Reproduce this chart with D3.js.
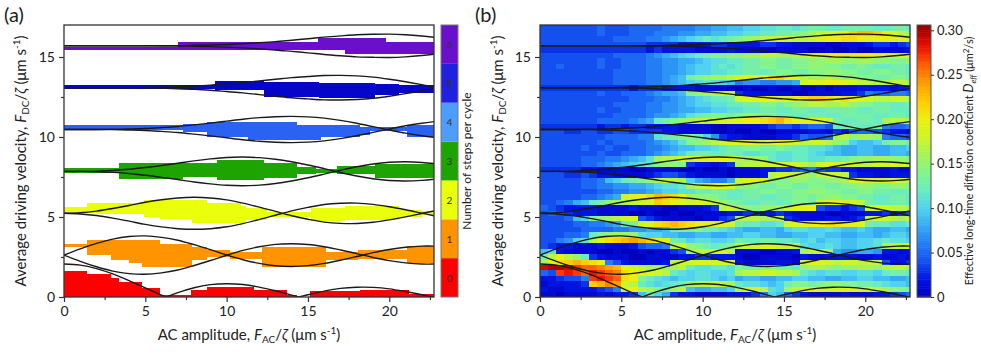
<!DOCTYPE html>
<html>
<head>
<meta charset="utf-8">
<script src="https://cdn.jsdelivr.net/npm/d3@7"></script>
<style>
  body { margin: 0; background: #fff; }
  text { font-family: Lato, "Open Sans", sans-serif; fill: #222; }
</style>
</head>
<body>
<svg id="fig" width="981" height="359"></svg>
<script>
// Shapiro-step map: (a) number of steps per cycle, (b) long-time diffusion coefficient

// --- data ---
var xMax = 22.75, yMax = 17;

// centre of each step (F_DC/zeta) and its signed half-width along F_AC/zeta
var stepLevels = [0, 2.62, 5.23, 7.85, 10.47, 13.08, 15.70];
var curveX = [0,1,2,3,4,5,6,7,8,9,10,11,12,13,14,15,16,17,18,19,20,21,22,22.75];
var halfWidth = [
  [2.06,1.99,1.77,1.44,1.02,0.57,0.12,-0.27,-0.58,-0.77,-0.83,-0.78,-0.62,-0.39,-0.12,0.14,0.37,0.54,0.61,0.60,0.51,0.34,0.14,-0.02],
  [0,0.39,0.73,1.00,1.16,1.20,1.11,0.93,0.65,0.34,0.01,-0.29,-0.52,-0.67,-0.71,-0.66,-0.52,-0.32,-0.09,0.15,0.35,0.49,0.56,0.56],
  [0,0.04,0.14,0.30,0.49,0.69,0.85,0.96,1.00,0.96,0.84,0.64,0.39,0.12,-0.15,-0.37,-0.55,-0.63,-0.64,-0.56,-0.41,-0.22,-0.01,0.15],
  [0,0,0.02,0.06,0.13,0.24,0.37,0.51,0.66,0.78,0.87,0.90,0.86,0.76,0.60,0.40,0.17,-0.07,-0.29,-0.46,-0.57,-0.60,-0.56,-0.49],
  [0,0,0,0.01,0.03,0.06,0.12,0.19,0.29,0.40,0.52,0.64,0.74,0.80,0.82,0.79,0.71,0.57,0.39,0.18,-0.03,-0.23,-0.39,-0.49],
  [0,0,0,0,0,0.01,0.03,0.06,0.10,0.16,0.24,0.32,0.43,0.53,0.63,0.70,0.76,0.77,0.74,0.66,0.53,0.37,0.19,0.04],
  [0,0,0,0,0,0,0.01,0.01,0.03,0.05,0.08,0.13,0.19,0.26,0.35,0.44,0.54,0.62,0.69,0.72,0.73,0.69,0.61,0.53]
];

// (a) locked regions per step: [xFrom, xTo, low, high]
var stepRuns = [
  [[0,1.4,0,1.62],[1.4,2.9,0,1.42],[2.9,3.4,0,1.17],[3.4,4.8,0,0.92],[4.8,5.9,0,0.54],[5.9,7.8,0,0.12],
   [7.8,8.8,0,0.42],[8.8,11.7,0,0.65],[11.7,13.7,0,0.42],[13.7,14.3,0,0.12],[15.1,18.2,0,0.4],[18.2,21.2,0,0.45],[21.2,22.75,0,0.2]],
  [[0,1.4,3.1,3.3],[1.4,2.9,2.6,3.56],[2.9,4.0,2.3,3.56],[4.0,4.8,2.1,3.56],[4.8,5.9,1.9,3.56],[5.9,7.85,1.9,3.3],
   [7.85,8.8,2.3,3.1],[8.8,10.2,2.5,2.94],[10.2,12.2,2.4,2.83],[12.2,16.1,1.9,3.15],[16.1,18.1,2.3,2.83],[18.1,21.1,2.4,2.94],[21.1,22.75,2.1,3.2]],
  [[0,1.4,5.3,5.6],[1.4,2.0,5.27,5.85],[2.0,4.9,5.17,5.9],[4.9,5.9,5.0,6.06],[5.9,7.85,4.85,6.06],[7.85,8.8,4.6,6.06],
   [8.8,10.9,4.6,5.85],[10.9,11.2,4.6,5.7],[11.2,12.5,4.8,5.56],[12.5,15.2,5.0,5.3],[15.2,17.3,4.75,5.56],[17.3,20.6,4.8,5.7],[20.6,22.0,5.0,5.45],[22.0,22.75,5.1,5.35]],
  [[0,3.4,7.73,8.04],[3.4,7.3,7.35,8.36],[7.3,9.4,7.5,8.4],[9.4,12.3,7.3,8.56],[12.3,14.3,7.45,8.4],[14.3,15.5,7.7,8.1],
   [15.5,16.8,7.75,8.0],[16.8,19.1,7.7,8.2],[19.1,22.75,7.45,8.3]],
  [[0,7.3,10.44,10.75],[7.3,8.8,10.3,10.8],[8.8,11.3,10.02,10.96],[11.3,14.3,9.8,10.96],[14.3,15.8,9.8,10.75],
   [15.8,18.2,10.02,10.75],[18.2,18.8,10.1,10.6],[18.8,21.1,10.35,10.6],[21.1,22.75,10.02,10.75]],
  [[0,9.3,12.98,13.25],[9.3,12.3,12.94,13.5],[12.3,15.7,12.52,13.46],[15.7,19.1,12.42,13.35],[19.1,20.6,12.6,13.3],[20.6,22.75,12.73,13.25]],
  [[0,7.0,15.44,15.65],[7.0,15.6,15.44,15.92],[15.6,17.3,15.44,16.17],[17.3,19.8,15.19,16.17],[19.8,22.75,15.19,15.96]]
];
var stepNames = ["0","1","2","3","4","5","6"];
var stepColors = ["#ff0000","#ff9400","#eaff0a","#1ea400","#4d9cff","#2020e0","#6a10cc"];
// the regions in the plot use slightly deeper blues than the legend for 4 and 5
var regionColors = ["#ff0000","#ff9400","#eaff0a","#1ea400","#2a62f2","#0505cc","#6a10cc"];

// (b) D_eff in hundredths of um^2/s (base-36 digit per cell), cells 0.5 wide and 0.34 high, first row at F_DC = 0
var cellW = 0.5, cellH = 0.34;
var diffRows = [
  "11 01 11 12 12 23 9c a8 32 21 11 12 22 36 a9 53 21 11 12 11 12 23 45",
  "21 12 22 23 46 jk hg ed gh 98 89 9a hi ih ba gh ij ji ij ji ih gf ed",
  "12 22 23 mn po ih cb ab cd gh hi hg cb ba 9a de ed ef fe ed dc ba a9",
  "22 34 46 rs rq lk ec ba 9a ab ba 9a 89 98 89 9a a9 98 89 9a a9 98 89",
  "54 rs rq sr qp lk jj ih cb ab ba ab gh hi ih hg cb ab ba ab ba cd dc",
  "tu ut rq qp on ji hg gf gh cb bc cb ed de ed dc fg gf ef fg gf hh hg",
  "gk lm nm lk 64 21 11 12 hi ij ji ij 21 11 12 21 ij ji hi ih hi 42 23",
  "dh kh fc 32 11 10 01 11 12 23 32 22 10 01 11 10 21 12 22 21 12 11 21",
  "9b 21 11 10 01 00 10 11 34 gh hi ih 11 10 01 12 gh hg 87 78 87 22 12",
  "43 22 11 12 11 12 45 56 hi fe dc de hi ij ji ih ba ab a9 9a ab gh hi",
  "44 67 ab hj lm no nm kj dc ab ba ab dc cd dc cb ab 9a a9 9a ab cb ba",
  "44 45 56 ce fg gf ba a9 98 89 98 89 9a a9 98 89 9a a9 98 89 98 9a a9",
  "44 44 45 55 56 67 78 89 cd de dc ba 98 89 98 ab ba ab a9 9a 98 89 98",
  "44 44 55 66 78 cd ij lm nm lk jj ji dc cb bc ij jk kl lk kj dc cb bc",
  "44 45 9a ef gh ij 43 21 11 10 11 34 gh hg gh 32 11 12 21 23 hi ih gh",
  "45 43 22 21 11 10 01 00 10 01 11 12 23 32 23 21 11 10 01 11 22 32 34",
  "54 32 22 21 11 12 11 10 01 11 23 hi gf ef fg ij jk 43 32 34 ij ih hg",
  "44 56 89 cd fg gh ij ml kj ij ih fe dc cd dc de ed ij ji ih dc cd dc",
  "44 44 45 56 78 ij kl nm lk gf fe dc cd dc cd de ed ef fe ed dc cd dc",
  "44 44 44 45 56 67 78 9a ab bc cd dc cd de ed de ef fe ed de ed dc cd",
  "44 44 45 56 67 78 89 ab bc gh ij ji fe ed de ed de ed de ef fe ef fe",
  "44 44 45 56 9a cd ef gh hg a8 76 68 ij ji fe ef fe ef fg ij ji ij ih",
  "44 43 34 32 21 11 12 34 43 21 11 10 11 12 hi ih gf hi ih 32 21 12 22",
  "33 33 32 21 11 10 01 11 10 01 00 10 11 12 23 34 56 43 32 21 11 12 11",
  "44 44 45 56 78 9a bc ef fe 32 21 23 gh hi ij ji hg ij ji ih hi ij ih",
  "44 44 45 55 66 78 9b gh hi ij jk kj hg gf cb bc cb bc cd ef fg gf fe",
  "44 44 44 45 44 55 56 78 9a cd dc cd cb bc cb bc cb a9 98 89 98 89 98",
  "44 44 45 44 54 45 56 67 89 9a ab cd de ed de dc cb ba 98 89 98 89 9a",
  "44 44 44 45 45 55 56 78 9b ef gh ij jk kj jk ji hi ih fe a9 9a de ed",
  "44 44 44 44 55 55 66 bc de ed a7 32 21 11 12 23 54 45 gh fg gf 65 54",
  "44 43 34 43 34 43 33 32 21 11 10 01 00 10 01 11 12 21 32 45 54 32 21",
  "33 33 33 32 33 23 32 22 21 11 10 01 11 12 34 43 45 54 cd dc cd 65 56",
  "44 44 44 45 55 56 78 cd ef gh hi ij jk kl mn lk jk ji dc cd dc gh hg",
  "44 44 44 44 45 55 56 77 89 bc de ed ef fe ed dc cd dc cd dd dc cd dc",
  "44 44 44 45 44 55 56 67 78 89 9a ab bc cd dc cd dc cd dd dc cd dc cc",
  "44 44 44 44 45 55 56 67 78 9a ab bc cd de ed ef gh hg gh fe ed dc cd",
  "44 44 44 44 44 45 55 66 78 9a bc cd ij jk kj jk lm ml kl kj ih hi ih",
  "44 44 44 45 44 55 56 78 89 ef gh hi 32 21 11 10 01 11 12 23 65 56 65",
  "33 33 33 33 33 32 33 32 22 21 11 10 01 00 10 01 00 10 11 12 22 21 23",
  "44 44 44 44 45 55 56 67 89 ab cb a9 67 76 67 78 ij jk kj ih hg gh hg",
  "44 44 44 44 45 55 56 67 89 de fg gh ij jk lm kj hg gh gf fe ed de ed",
  "44 44 44 44 45 55 56 67 78 9a ab bc cd dc de ed de ef fe ed de ed dc",
  "44 54 44 45 44 55 56 67 78 9a ab cb cd de ed de ef fe ed de dc cd dc",
  "44 44 44 45 44 55 56 67 78 89 ab bc cd de ed de ef fg gf fg gf fe ef",
  "44 44 44 44 45 55 56 78 9a bc de ef fg gh hg gh hi jk kj jk kj ji ij",
  "33 33 33 33 33 33 32 32 22 21 11 12 11 10 01 11 10 01 00 10 01 11 12",
  "44 44 44 44 44 44 43 33 32 22 23 32 22 23 32 21 11 10 01 11 23 32 34",
  "44 44 44 44 45 55 56 67 89 ab cb cd ef gh hi ih hi jk kl lk jk kj ji",
  "44 44 44 45 44 45 55 66 67 78 89 9a ab bc cd de fg hi jk mn nm kj hg",
  "44 44 44 45 44 45 55 56 66 67 78 89 9a ab bc cb cd dc cd dd dc cd dc"
];

var xTicks = [0, 5, 10, 15, 20], xMinor = [2.5, 7.5, 12.5, 17.5, 22.5];
var yTicks = [0, 5, 10, 15], yMinor = [2.5, 7.5, 12.5];
var cbTicks = [0, 0.05, 0.10, 0.15, 0.20, 0.25, 0.30];

// colour map of panel (b)
var cmapStops = [0, 0.02, 0.04, 0.06, 0.08, 0.10, 0.12, 0.14, 0.16, 0.18, 0.20, 0.22, 0.24, 0.26, 0.28, 0.30, 0.31];
var cmapColors = ["#0000be","#0014e1","#1450f0","#237df5","#37aaf5","#50d2f0","#69ebc3","#82f58c",
                  "#a5f55a","#cdf528","#ebf00f","#ffcd00","#ffa000","#ff6400","#f01400","#aa0000","#8c0000"];

// --- layout ---
var svg = d3.select("#fig");
var plotTop = 25, plotBottom = 297;
var panelA = { left: 64, right: 434 }, panelB = { left: 540, right: 910 };

function scalesFor(p) {
  return {
    x: d3.scaleLinear().domain([0, xMax]).range([p.left, p.right]),
    y: d3.scaleLinear().domain([0, yMax]).range([plotBottom, plotTop])
  };
}
var sa = scalesFor(panelA), sb = scalesFor(panelB);

var defs = svg.append("defs");
[["clipA", panelA], ["clipB", panelB]].forEach(function(c) {
  defs.append("clipPath").attr("id", c[0]).append("rect")
    .attr("x", c[1].left).attr("y", plotTop)
    .attr("width", c[1].right - c[1].left).attr("height", plotBottom - plotTop);
});

var cmap = d3.scaleLinear().domain(cmapStops).range(cmapColors).clamp(true);

// --- panel (a) ---
var ga = svg.append("g").attr("clip-path", "url(#clipA)");
stepRuns.forEach(function(runs, n) {
  ga.selectAll(null).data(runs).enter().append("rect")
    .attr("x", function(d) { return sa.x(d[0]); })
    .attr("width", function(d) { return sa.x(d[1]) - sa.x(d[0]); })
    .attr("y", function(d) { return sa.y(d[3]); })
    .attr("height", function(d) { return sa.y(d[2]) - sa.y(d[3]); })
    .attr("fill", regionColors[n])
    .attr("shape-rendering", "crispEdges");
});

// --- panel (b) ---
var cells = [];
diffRows.forEach(function(row, i) {
  var s = row.replace(/ /g, "");
  for (var j = 0; j < s.length; j++) cells.push({ i: i, j: j, v: parseInt(s[j], 36) / 100 });
});
var gb = svg.append("g").attr("clip-path", "url(#clipB)");
gb.selectAll("rect.cell").data(cells).enter().append("rect")
  .attr("class", "cell")
  .attr("x", function(d) { return sb.x(d.j * cellW); })
  .attr("width", sb.x(cellW) - sb.x(0) + 0.6)
  .attr("y", function(d) { return sb.y((d.i + 1) * cellH); })
  .attr("height", sb.y(0) - sb.y(cellH) + 0.6)
  .attr("fill", function(d) { return cmap(d.v); })
  .attr("shape-rendering", "crispEdges");

// --- theory curves on both panels ---
var line = d3.line().curve(d3.curveCatmullRom.alpha(0.5));
[[ga, sa], [gb, sb]].forEach(function(pair) {
  var g = pair[0], s = pair[1];
  stepLevels.forEach(function(c, n) {
    [1, -1].forEach(function(sign) {
      g.append("path")
        .datum(curveX.map(function(x, k) { return [s.x(x), s.y(c + sign * halfWidth[n][k])]; }))
        .attr("d", line)
        .attr("fill", "none")
        .attr("stroke", "#1a1a1a")
        .attr("stroke-width", 1.4);
    });
  });
});

// --- axes and frames ---
function drawAxes(s, p) {
  var ax = svg.append("g").attr("transform", "translate(0," + plotBottom + ")")
    .call(d3.axisBottom(s.x).tickValues(xTicks).tickSize(5).tickSizeOuter(0).tickPadding(4).tickFormat(d3.format("d")));
  var axm = svg.append("g").attr("transform", "translate(0," + plotBottom + ")")
    .call(d3.axisBottom(s.x).tickValues(xMinor).tickSize(3).tickSizeOuter(0).tickFormat(""));
  var ay = svg.append("g").attr("transform", "translate(" + p.left + ",0)")
    .call(d3.axisLeft(s.y).tickValues(yTicks).tickSize(5).tickSizeOuter(0).tickPadding(4).tickFormat(d3.format("d")));
  var aym = svg.append("g").attr("transform", "translate(" + p.left + ",0)")
    .call(d3.axisLeft(s.y).tickValues(yMinor).tickSize(3).tickSizeOuter(0).tickFormat(""));
  [ax, axm, ay, aym].forEach(function(a) {
    a.select(".domain").remove();
    a.selectAll("line").attr("stroke", "#333").attr("stroke-width", 1.2);
    a.selectAll("text").style("font-size", "14px").attr("fill", "#222");
  });
  svg.append("rect")
    .attr("x", p.left).attr("y", plotTop)
    .attr("width", p.right - p.left).attr("height", plotBottom - plotTop)
    .attr("fill", "none").attr("stroke", "#333").attr("stroke-width", 1.3);
}
drawAxes(sa, panelA);
drawAxes(sb, panelB);

// axis titles with sub/superscripts
function yTitle(x) {
  var t = svg.append("text")
    .attr("transform", "translate(" + x + "," + ((plotTop + plotBottom) / 2) + ") rotate(-90)")
    .attr("text-anchor", "middle").style("font-size", "15px");
  t.append("tspan").text("Average driving velocity, ");
  t.append("tspan").style("font-style", "italic").text("F");
  t.append("tspan").attr("dy", 3).style("font-size", "10px").text("DC");
  t.append("tspan").attr("dy", -3).text("/");
  t.append("tspan").style("font-style", "italic").text("\u03b6");
  t.append("tspan").text(" (\u03bcm s");
  t.append("tspan").attr("dy", -6).style("font-size", "10px").text("-1");
  t.append("tspan").attr("dy", 6).text(")");
}
function xTitle(cx) {
  var t = svg.append("text")
    .attr("x", cx).attr("y", 340)
    .attr("text-anchor", "middle").style("font-size", "15px");
  t.append("tspan").text("AC amplitude, ");
  t.append("tspan").style("font-style", "italic").text("F");
  t.append("tspan").attr("dy", 3).style("font-size", "10px").text("AC");
  t.append("tspan").attr("dy", -3).text("/");
  t.append("tspan").style("font-style", "italic").text("\u03b6");
  t.append("tspan").text(" (\u03bcm s");
  t.append("tspan").attr("dy", -6).style("font-size", "10px").text("-1");
  t.append("tspan").attr("dy", 6).text(")");
}
yTitle(26); yTitle(503);
xTitle((panelA.left + panelA.right) / 2);
xTitle((panelB.left + panelB.right) / 2);

svg.append("text").attr("x", 4).attr("y", 22).style("font-size", "20px").text("(a)");
svg.append("text").attr("x", 475).attr("y", 22).style("font-size", "20px").text("(b)");

// --- colour bar (a): discrete steps ---
var cbA = { left: 441, width: 17 };
var cbAy = d3.scaleBand().domain(stepNames.slice().reverse()).range([plotTop, plotBottom]).padding(0);
svg.selectAll("rect.cba").data(stepNames).enter().append("rect")
  .attr("class", "cba")
  .attr("x", cbA.left).attr("width", cbA.width)
  .attr("y", function(d) { return cbAy(d); })
  .attr("height", cbAy.bandwidth())
  .attr("fill", function(d, i) { return stepColors[i]; });
svg.selectAll("text.cba").data(stepNames).enter().append("text")
  .attr("class", "cba")
  .attr("x", cbA.left + cbA.width / 2)
  .attr("y", function(d) { return cbAy(d) + cbAy.bandwidth() / 2 + 4; })
  .attr("text-anchor", "middle").style("font-size", "10px").style("fill", "#333")
  .text(function(d) { return d; });
svg.append("rect").attr("x", cbA.left).attr("y", plotTop).attr("width", cbA.width)
  .attr("height", plotBottom - plotTop).attr("fill", "none").attr("stroke", "#777").attr("stroke-width", 1);
svg.append("text")
  .attr("transform", "translate(471," + ((plotTop + plotBottom) / 2) + ") rotate(-90)")
  .attr("text-anchor", "middle").style("font-size", "12px")
  .text("Number of steps per cycle");

// --- colour bar (b): continuous ---
var cbB = { left: 917, width: 14 };
var cbY = d3.scaleLinear().domain([0, 0.306]).range([plotBottom, plotTop]);
svg.selectAll("rect.cbb").data(d3.range(0, 0.306, 0.002)).enter().append("rect")
  .attr("class", "cbb")
  .attr("x", cbB.left).attr("width", cbB.width)
  .attr("y", function(d) { return cbY(Math.min(d + 0.002, 0.306)); })
  .attr("height", function(d) { return cbY(d) - cbY(Math.min(d + 0.002, 0.306)) + 0.5; })
  .attr("fill", function(d) { return cmap(d + 0.001); });
svg.append("rect").attr("x", cbB.left).attr("y", plotTop).attr("width", cbB.width)
  .attr("height", plotBottom - plotTop).attr("fill", "none").attr("stroke", "#555").attr("stroke-width", 1);
var cbAxis = svg.append("g").attr("transform", "translate(" + (cbB.left + cbB.width) + ",0)")
  .call(d3.axisRight(cbY).tickValues(cbTicks).tickSize(3).tickSizeOuter(0).tickPadding(3)
    .tickFormat(function(d) { return d === 0 ? "0" : d3.format(".2f")(d); }));
cbAxis.select(".domain").remove();
cbAxis.selectAll("line").attr("stroke", "#333");
cbAxis.selectAll("text").style("font-size", "13px").attr("fill", "#222");

var cbl = svg.append("text")
  .attr("transform", "translate(973," + ((plotTop + plotBottom) / 2) + ") rotate(-90)")
  .attr("text-anchor", "middle").style("font-size", "11px");
cbl.append("tspan").text("Effective long-time diffusion coefficient ");
cbl.append("tspan").style("font-style", "italic").style("font-size", "13px").text("D");
cbl.append("tspan").attr("dy", 3).style("font-size", "8px").style("font-style", "italic").text("eff");
cbl.append("tspan").attr("dy", -3).text(" (\u03bcm");
cbl.append("tspan").attr("dy", -4).style("font-size", "8px").text("2");
cbl.append("tspan").attr("dy", 4).text("/s)");
</script>
</body>
</html>
